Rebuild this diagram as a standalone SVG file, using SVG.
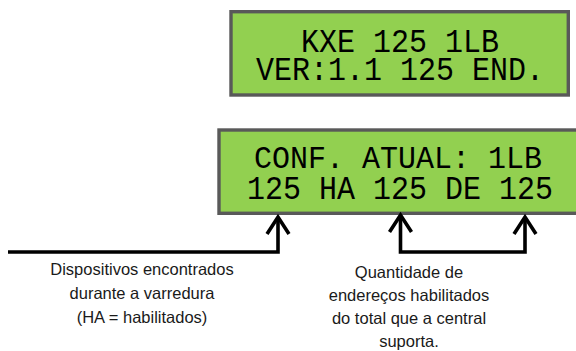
<svg xmlns="http://www.w3.org/2000/svg" width="576" height="351" viewBox="0 0 576 351">
<style>
.lcd{fill:#92d050;stroke:#595959;stroke-width:3.4}
.lcdt{font-family:"Liberation Mono","DejaVu Sans Mono",monospace;font-size:30px;fill:#000;text-anchor:middle}
.lbl{font-family:"Liberation Sans",Arial,sans-serif;font-size:16.5px;fill:#1a1a1a;text-anchor:middle}
.con{fill:none;stroke:#000;stroke-width:3.6;stroke-linejoin:miter}
</style>
<defs>
<marker id="chev" markerUnits="userSpaceOnUse" markerWidth="40" markerHeight="40" refX="0" refY="0" orient="auto" overflow="visible">
<path d="M-17,-11 L0,0 L-17,11" fill="none" stroke="#000" stroke-width="3.6"/>
</marker>
</defs>
<rect width="576" height="351" fill="#fff"/>
<g id="lcd1">
<rect class="lcd" x="231" y="11.7" width="337.3" height="83.3"/>
<text class="lcdt" transform="translate(400,52) scale(1,1.1)">KXE 125 1LB</text>
<text class="lcdt" transform="translate(400,80) scale(1,1.1)">VER:1.1 125 END.</text>
</g>
<g id="lcd2">
<rect class="lcd" x="219" y="130" width="370" height="83.3"/>
<text class="lcdt" transform="translate(398,168) scale(1,1.05)">CONF. ATUAL: 1LB</text>
<text class="lcdt" transform="translate(400,198.5) scale(1,1.1)">125 HA 125 DE 125</text>
</g>
<g id="connectors">
<path class="con" d="M8,252 H278 V217" marker-end="url(#chev)"/>
<path class="con" d="M400.5,217 V252 H525 V217" marker-end="url(#chev)"/>
<path class="con" d="M389.5,232 L400.5,215 L411.5,232"/>
</g>
<g id="label1">
<text class="lbl" x="142" y="275">Dispositivos encontrados</text>
<text class="lbl" x="142" y="299">durante a varredura</text>
<text class="lbl" x="142" y="323">(HA = habilitados)</text>
</g>
<g id="label2">
<text class="lbl" x="409" y="278">Quantidade de</text>
<text class="lbl" x="409" y="301">endereços habilitados</text>
<text class="lbl" x="409" y="324">do total que a central</text>
<text class="lbl" x="409" y="347">suporta.</text>
</g>
</svg>
